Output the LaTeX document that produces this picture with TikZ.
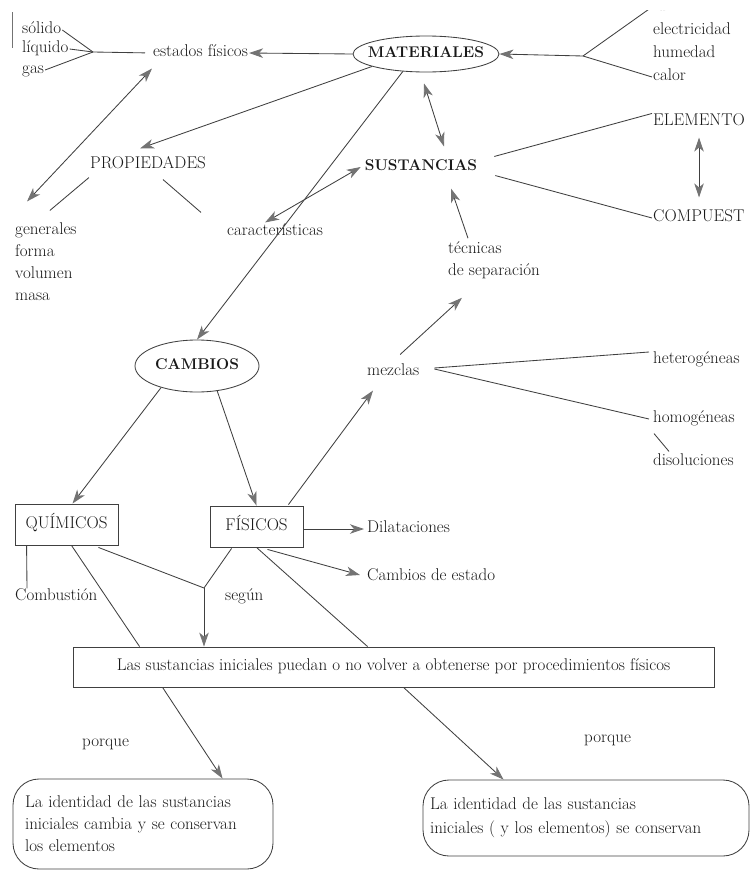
\documentclass[tikz,border=0pt]{standalone}
\usetikzlibrary{arrows.meta,shapes.geometric,calc}
\begin{document}
\begin{tikzpicture}[x=1pt,y=-1pt,
  >={Stealth[length=14pt,width=9.5pt,inset=4pt,color=black!55]},
  every node/.style={font=\fontsize{17}{22}\selectfont, text=black!90},
  txt/.style={inner sep=1pt, text height=11pt, text depth=3.7pt},
  bold/.style={font=\fontsize{15.5}{20}\selectfont\bfseries},
  ln/.style={draw=black!75, line width=0.85pt},
  arr/.style={ln,->},
  darr/.style={ln,<->},
  ell/.style={draw=black!75, line width=0.85pt, ellipse, text height=10pt, text depth=3.4pt},
  sqbox/.style={draw=black!75, line width=0.85pt, rectangle, inner sep=2pt, text height=11pt, text depth=3.7pt},
  rbox/.style={draw=black!75, line width=0.85pt, rounded corners=26pt, align=left, inner ysep=0pt}
]
\useasboundingbox (0,0) rectangle (752,870);
\begin{scope}
\clip (0,10) rectangle (752,870);
\draw[black!55, line width=0.6pt] (12,12) -- (12,48);

% nodes
\node[txt,anchor=west] (solido) at (21,30) {sólido};
\node[txt,anchor=west] (liquido) at (21,49) {líquido};
\node[txt,anchor=west] (gas) at (21,70) {gas};
\coordinate (j0) at (93,52);
\node[txt,anchor=west] (estados) at (152,53) {estados físicos};
\node[ell,bold,inner xsep=-12pt,inner ysep=5pt,minimum width=146pt,minimum height=36pt] (materiales) at (426,54) {MATERIALES};
\coordinate (j1) at (583,56);
\node[txt,anchor=west] (luz) at (652,7) {luz};
\node[txt,anchor=west] (electricidad) at (652,31) {electricidad};
\node[txt,anchor=west] (humedad) at (652,54) {humedad};
\node[txt,anchor=west] (calor) at (652,77) {calor};
\node[txt] (propiedades) at (148,165) {PROPIEDADES};
\node[txt,anchor=west] (generales) at (14,231) {generales};
\node[txt,anchor=west] (forma) at (14,253) {forma};
\node[txt,anchor=west] (volumen) at (14,275) {volumen};
\node[txt,anchor=west] (masa) at (14,297) {masa};
\node[txt,anchor=west] (caract) at (226,232) {características};
\node[txt,bold] (sustancias) at (421,167) {SUSTANCIAS};
\node[txt,anchor=west] (elemento) at (652,122) {ELEMENTO};
\node[txt,anchor=west] (compuest) at (652,218) {COMPUEST};
\node[anchor=west,align=left,inner sep=1pt] (tecnicas) at (447,260) {técnicas\\de separación};
\node[txt,anchor=west] (mezclas) at (366,372) {mezclas};
\node[txt,anchor=west] (hetero) at (652,360) {heterogéneas};
\node[txt,anchor=west] (homo) at (652,419) {homogéneas};
\node[txt,anchor=west] (disol) at (652,462) {disoluciones};
\node[ell,bold,inner xsep=-2pt,inner ysep=8pt,minimum width=124pt,minimum height=52pt] (cambios) at (197,366) {CAMBIOS};
\node[sqbox,minimum width=103pt,minimum height=41pt] (quimicos) at (66.5,524.5) {QUÍMICOS};
\node[sqbox,minimum width=93pt,minimum height=41pt] (fisicos) at (256.5,526.5) {FÍSICOS};
\node[txt,anchor=west] (dilat) at (366,529) {Dilataciones};
\node[txt,anchor=west] (cestado) at (366,577) {Cambios de estado};
\node[txt,anchor=west] (segun) at (224,597) {según};
\node[txt,anchor=west] (combustion) at (14,597) {Combustión};
\coordinate (j2) at (204,588);
\node[sqbox,minimum width=641pt,minimum height=40pt] (bigbox) at (393.5,667) {Las sustancias iniciales puedan o no volver a obtenerse por procedimientos físicos};
\node[txt,anchor=west] (porque1) at (81,743) {porque};
\node[txt,anchor=west] (porque2) at (583,739) {porque};
\node[rbox,text width=236pt,inner xsep=12pt,minimum height=90pt] (leftbox) at (143,824) {La identidad de las sustancias\\iniciales cambia y se conservan\\los elementos};
\node[rbox,font=\fontsize{17}{24}\selectfont,text width=312pt,inner xsep=7pt,minimum height=76pt] (rightbox) at (586,818) {La identidad de las sustancias\\iniciales ( y los elementos) se conservan};

% connectors
\draw[ln] (solido.east) -- (j0);
\draw[ln] (liquido.east) -- (j0);
\draw[ln] (gas.east) -- (j0);
\draw[ln,shorten >=7pt] (j0) -- (estados.west);
\draw[arr] (materiales.west) -- (estados.east);
\draw[arr] (j1) -- (materiales.east);
\draw[ln] (j1) -- (luz.west);
\draw[ln] (j1) -- (calor.west);
\draw[arr] (materiales.193) -- ($(propiedades.north)+(-8,-8)$);
\draw[darr] ($(estados.south west)+(0,7)$) -- ($(generales.north west)+(13,-21)$);
\draw[ln] ($(propiedades.south west)+(0,4)$) -- ($(generales.north)+(4,-12)$);
\draw[ln] ($(propiedades.south)+(15,6)$) -- ($(caract.north west)+(-25,-11)$);
\draw[darr] ($(caract.north)+(-10,-1)$) -- ($(sustancias.west)+(-3,0)$);
\draw[arr] (materiales.217) -- (cambios.north);
\draw[darr] ($(materiales.south)+(-2,11)$) -- ($(sustancias.north)+(23,-12)$);
\draw[ln] ($(sustancias.north east)+(16,-2)$) -- (elemento.north west);
\draw[ln] ($(sustancias.south east)+(17,0)$) -- (compuest.west);
\draw[darr] ($(elemento.south)+(0,7)$) -- ($(elemento.south |- compuest.north)+(0,-12)$);
\draw[arr] ($(tecnicas.north west)+(21,-2)$) -- ($(sustancias.south)+(30,13)$);
\draw[arr] ($(mezclas.north)+(7,-9)$) -- ($(tecnicas.south west)+(15,18)$);
\draw[ln] ($(mezclas.east)+(14,-4)$) -- ($(hetero.west)+(-3,-8)$);
\draw[ln] ($(mezclas.east)+(14,-3)$) -- ($(homo.west)+(-3,0)$);
\draw[ln] ($(homo.south west)+(2,6)$) -- ($(disol.north west)+(17,-2)$);
\draw[arr] (cambios.211) -- ($(quimicos.north)+(6,0)$);
\draw[arr] (cambios.309) -- (fisicos.north);
\draw[arr] ($(fisicos.north east)+(-15,-1)$) -- ($(mezclas.south west)+(7,10)$);
\draw[arr,shorten >=2pt] (fisicos.east |- dilat.west) -- (dilat.west);
\draw[arr] ($(fisicos.south)+(11,2)$) -- ($(cestado.west)+(-6,-2)$);
\draw[ln] ($(fisicos.south west)+(22,1)$) -- (j2);
\draw[ln] ($(quimicos.south east)+(-20,2)$) -- (j2);
\draw[arr] (j2) -- (j2 |- bigbox.north);
\draw[ln] ($(quimicos.south)+(5,0)$) -- ($(bigbox.north west)+(67,0)$);
\draw[ln] (fisicos.south) -- ($(bigbox.north west)+(295,0)$);
\draw[ln] ($(quimicos.south west)+(12,0)$) -- ($(combustion.north west)+(13,0)$);
\draw[arr] ($(bigbox.south west)+(90,0)$) -- ($(leftbox.north west)+(210,0)$);
\draw[arr] ($(bigbox.south west)+(331,0)$) -- ($(rightbox.north west)+(81,0)$);
\end{scope}
\end{tikzpicture}
\end{document}
